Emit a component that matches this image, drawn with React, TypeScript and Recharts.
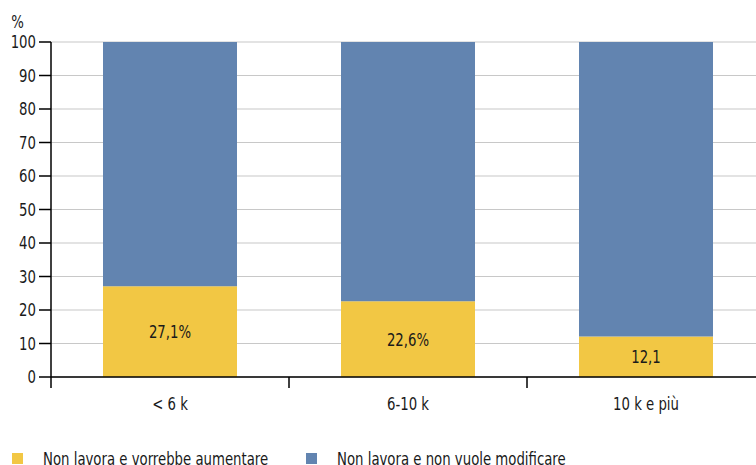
import React from 'react';
import {
  BarChart,
  Bar,
  XAxis,
  YAxis,
  CartesianGrid,
  Legend,
  LabelList,
  Label,
} from 'recharts';

const categories = ['< 6 k', '6-10 k', '10 k e più'];
const vorrebbeAumentare = [27.1, 22.6, 12.1];
const nonVuoleModificare = [72.9, 77.4, 87.9];
const labelSuffix = ['%', '%', ''];
const yTicks = [0, 10, 20, 30, 40, 50, 60, 70, 80, 90, 100];
const boundaryTicks = [0, 1, 2, 3];
const seriesNames = ['Non lavora e vorrebbe aumentare', 'Non lavora e non vuole modificare'];
const seriesColors = ['#F2C744', '#6284B0'];

const FONT = "'DejaVu Sans Condensed', 'DejaVu Sans', sans-serif";
const TEXT = '#1a1a1a';
const SQUEEZE = 'scaleX(0.82)';

const data = categories.map((name, i) => ({
  name,
  idx: i,
  aumentare: vorrebbeAumentare[i],
  nonModificare: nonVuoleModificare[i],
}));

const formatValue = (v: number, i: number) =>
  `${v.toFixed(1).replace('.', ',')}${labelSuffix[i]}`;

// narrow, tall lettering for all svg texts
const textStyle = (origin: string) => ({
  fill: TEXT,
  fontFamily: FONT,
  fontSize: 18,
  fontStretch: 'condensed',
  style: { transform: SQUEEZE, transformBox: 'fill-box', transformOrigin: origin },
});

const LegendContent = () => (
  <div style={{ display: 'flex', alignItems: 'center', fontFamily: FONT, fontSize: 18, color: TEXT, whiteSpace: 'nowrap', paddingTop: 3 }}>
    {seriesNames.map((n, i) => (
      <div key={n} style={{ display: 'flex', alignItems: 'center', width: i === 0 ? 294 : 'auto', paddingLeft: 12, boxSizing: 'border-box' }}>
        <div style={{ width: 11, height: 11, background: seriesColors[i], marginRight: 20, flexShrink: 0 }} />
        <span style={{ display: 'inline-block', transform: SQUEEZE, transformOrigin: 'left center' }}>{n}</span>
      </div>
    ))}
  </div>
);

export default function App() {
  return (
    <div style={{ position: 'absolute', left: 0, top: 0, width: 756, height: 465, overflow: 'hidden', background: '#fff' }}>
      <BarChart
        width={765}
        height={465}
        data={data}
        margin={{ top: 42, right: 0, bottom: 0, left: 0 }}
        barCategoryGap={0}
      >
        <CartesianGrid xAxisId="cat" vertical={false} stroke="#c8c8c8" strokeWidth={1.2} />
        {/* boundary ticks between categories, drawn right on the baseline */}
        <XAxis
          xAxisId="bounds"
          type="number"
          dataKey="idx"
          domain={[0, 3]}
          ticks={boundaryTicks}
          interval={0}
          tickFormatter={() => ' '}
          tick={{ fill: 'transparent', fontSize: 1 }}
          tickSize={11}
          tickMargin={0}
          height={1}
          axisLine={{ stroke: '#000', strokeWidth: 1.5 }}
          tickLine={{ stroke: '#000', strokeWidth: 1.5 }}
        />
        <XAxis
          xAxisId="cat"
          dataKey="name"
          height={67}
          tickSize={0}
          tickMargin={19}
          axisLine={false}
          tickLine={false}
          tick={textStyle('center')}
        />
        <YAxis
          width={51}
          domain={[0, 100]}
          ticks={yTicks}
          interval={0}
          tickSize={12}
          tickMargin={3}
          axisLine={{ stroke: '#000', strokeWidth: 1.5 }}
          tickLine={{ stroke: '#000', strokeWidth: 1.5 }}
          tick={textStyle('right')}
        >
          <Label value="%" position="top" offset={14} dx={-8} {...textStyle('center')} />
        </YAxis>
        <Legend verticalAlign="bottom" height={20} content={<LegendContent />} />
        <Bar
          xAxisId="cat"
          dataKey="aumentare"
          name={seriesNames[0]}
          stackId="a"
          fill={seriesColors[0]}
          barSize={134}
          isAnimationActive={false}
        >
          <LabelList
            dataKey="aumentare"
            position="center"
            {...textStyle('center')}
            formatter={(v: number) => formatValue(v, vorrebbeAumentare.indexOf(v))}
          />
        </Bar>
        <Bar
          xAxisId="cat"
          dataKey="nonModificare"
          name={seriesNames[1]}
          stackId="a"
          fill={seriesColors[1]}
          barSize={134}
          isAnimationActive={false}
        />
      </BarChart>
    </div>
  );
}
